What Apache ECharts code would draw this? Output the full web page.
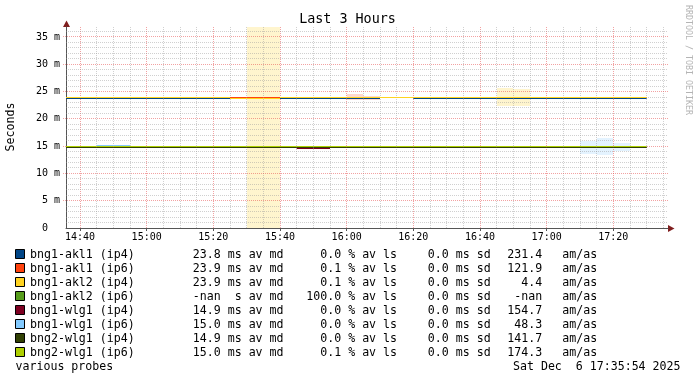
<!DOCTYPE html>
<html><head><meta charset="utf-8">
<script src="https://cdn.jsdelivr.net/npm/echarts@6/dist/echarts.min.js"></script>
<style>html,body{margin:0;padding:0;background:#fff}#c{width:697px;height:380px}</style>
</head><body><div id="c"></div>
<script>
// ---------- data ----------
// 5-minute step start times
const stepStarts = ['14:35','14:40','14:45','14:50','14:55','15:00','15:05','15:10','15:15','15:20',
  '15:25','15:30','15:35','15:40','15:45','15:50','15:55','16:00','16:05','16:10',
  '16:15','16:20','16:25','16:30','16:35','16:40','16:45','16:50','16:55','17:00',
  '17:05','17:10','17:15','17:20','17:25'];
const STEP = 5;
// median RTT per step (ms)
const akl1v4 = [23.8,23.8,23.8,23.8,23.8,23.8,23.8,23.8,23.8,23.8,null,null,null,23.8,23.8,23.8,23.8,23.8,23.8,null,null,23.8,23.8,23.8,23.8,23.8,23.8,23.8,23.8,23.8,23.8,23.8,23.8,23.8,23.8];
const akl1v6 = [23.95,23.95,23.95,23.95,23.95,23.95,23.95,23.95,23.95,23.95,23.95,23.95,23.95,23.95,23.95,23.95,23.95,23.95,23.95,null,null,23.95,23.95,23.95,23.95,23.95,23.95,23.95,23.95,23.95,23.95,23.95,23.95,23.95,23.95];
const akl2v4 = [23.95,23.95,23.95,23.95,23.95,23.95,23.95,23.95,23.95,23.95,23.8,23.8,23.8,23.95,23.95,23.95,23.95,23.95,23.95,23.95,23.95,23.95,23.95,23.95,23.95,23.95,23.95,23.95,23.95,23.95,23.95,23.95,23.95,23.95,23.95];
const akl2v6 = [null,null,null,null,null,null,null,null,null,null,null,null,null,null,null,null,null,null,null,null,null,null,null,null,null,null,null,null,null,null,null,null,null,null,null];
const wlg1v4 = [14.8,14.8,14.8,14.8,14.8,14.8,14.8,14.8,14.8,14.8,14.8,14.8,14.8,14.8,14.6,14.6,14.8,14.8,14.8,14.8,14.8,14.8,14.8,14.8,14.8,14.8,14.8,14.8,14.8,14.8,14.8,14.8,14.8,14.8,14.8];
const wlg1v6 = [15.0,15.0,15.1,15.1,15.0,15.0,15.0,15.0,15.0,15.0,15.0,15.0,15.0,15.0,15.0,15.0,15.0,15.0,15.0,15.0,15.0,15.0,15.0,15.0,15.0,15.0,15.0,15.0,15.0,15.0,15.0,15.0,15.0,15.0,15.0];
const bng2v4 = [14.8,14.8,14.8,14.8,14.8,14.8,14.8,14.8,14.8,14.8,14.8,14.8,14.8,14.8,14.8,14.8,14.8,14.8,14.8,14.8,14.8,14.8,14.8,14.8,14.8,14.8,14.8,14.8,14.8,14.8,14.8,14.8,14.8,14.8,14.8];
const bng2v6 = [15.0,15.0,15.0,15.0,15.0,15.0,15.0,15.0,15.0,15.0,15.0,15.0,15.0,15.0,15.0,15.0,15.0,15.0,15.0,15.0,15.0,15.0,15.0,15.0,15.0,15.0,15.0,15.0,15.0,15.0,15.0,15.0,15.0,15.0,15.0];
// smoke bands: [start, end, low, high]
const smokeAkl1v6 = [['16:00','16:05',23.4,24.5],['16:05','16:10',23.4,24.2]];
const smokeAkl2v4 = [['15:30','15:40',0,40],['16:45','16:50',22.3,25.6],['16:50','16:55',22.3,25.4]];
const smokeWlg1v6 = [['17:10','17:15',13.55,15.9],['17:15','17:20',13.4,16.5],['17:20','17:25',14.1,15.6]];
// axes
const xTickLabels = ['14:40','15:00','15:20','15:40','16:00','16:20','16:40','17:00','17:20'];
const yTickValues = [0,5,10,15,20,25,30,35];
// legend
const legendNames = ['bng1-akl1 (ip4)','bng1-akl1 (ip6)','bng1-akl2 (ip4)','bng1-akl2 (ip6)','bng1-wlg1 (ip4)','bng1-wlg1 (ip6)','bng2-wlg1 (ip4)','bng2-wlg1 (ip6)'];
const legendColors = ['#004586','#ff420e','#ffd320','#579d1c','#7e0021','#83caff','#314004','#aecf00'];
const avMd = ['23.8 ms','23.9 ms','23.9 ms','-nan  s','14.9 ms','15.0 ms','14.9 ms','15.0 ms'];
const avLs = ['0.0','0.1','0.1','100.0','0.0','0.0','0.0','0.1'];
const sdVals = ['0.0','0.0','0.0','0.0','0.0','0.0','0.0','0.0'];
const amas = ['231.4','121.9','4.4','-nan','154.7','48.3','141.7','174.3'];

// ---------- helpers ----------
const FONT = '"DejaVu Sans Mono", monospace';
const toMin = s => { const [h, m] = s.split(':').map(Number); return h * 60 + m; };
const xMin = 14 * 60 + 35.8, xMax = xMin + 180.6;
const yMax = 36.83;
const GRID_C = 'rgba(150,150,150,0.45)';
const MGRID_C = 'rgba(230,70,70,0.5)';

const xMajor = xTickLabels.map(toMin);
const xMinor = [];
for (let t = toMin('14:40'); t < xMax; t += 5) if (xMajor.indexOf(t) < 0) xMinor.push(t);
const yMinor = [];
for (let v = 1; v < yMax; v++) if (v % 5) yMinor.push(v);
const yMajor = yTickValues.filter(v => v > 0);

function vGrid(vals, color, ext) {
  return { type: 'custom', z: 2, silent: true, data: vals.map(v => [v, 0]),
    renderItem(p, api) {
      const x = Math.floor(api.coord([api.value(0), 0])[0]) + 0.5;
      const yb = api.coord([xMin, 0])[1], yt = api.coord([xMin, yMax])[1];
      return { type: 'line', shape: { x1: x, y1: yb + ext, x2: x, y2: yt }, style: { stroke: color, lineWidth: 1, lineDash: [1, 1] } };
    } };
}
function hGrid(vals, color, ext) {
  return { type: 'custom', z: 2, silent: true, data: vals.map(v => [xMin, v]),
    renderItem(p, api) {
      const y = Math.floor(api.coord([xMin, api.value(1)])[1]) + 0.5;
      const xl = api.coord([xMin, 0])[0], xr = api.coord([xMax, 0])[0];
      return { type: 'line', shape: { x1: xl - ext, y1: y, x2: xr, y2: y }, style: { stroke: color, lineWidth: 1, lineDash: [1, 1] } };
    } };
}
function stepSeries(name, vals, color, width) {
  const data = [];
  vals.forEach((v, i) => { if (v != null) data.push([toMin(stepStarts[i]), v]); });
  return { name, type: 'custom', z: 3, silent: true, data,
    renderItem(p, api) {
      const t = api.value(0), v = api.value(1);
      const p0 = api.coord([Math.max(t, xMin), v]), p1 = api.coord([t + STEP, v]);
      const y = width % 2 ? Math.floor(p0[1]) + 0.5 : Math.round(p0[1]);
      return { type: 'line', shape: { x1: p0[0], y1: y, x2: p1[0], y2: y }, style: { stroke: color, lineWidth: width } };
    } };
}
function smokeSeries(bands, color) {
  return { type: 'custom', z: 1, silent: true,
    data: bands.map(b => [toMin(b[0]), toMin(b[1]), b[2], b[3]]),
    renderItem(p, api) {
      const a = api.coord([api.value(0), Math.min(api.value(3), yMax)]);
      const b = api.coord([api.value(1), api.value(2)]);
      return { type: 'rect', shape: { x: Math.round(a[0]), y: Math.round(a[1]), width: Math.round(b[0]) - Math.round(a[0]), height: Math.round(b[1]) - Math.round(a[1]) }, style: { fill: color } };
    } };
}

// ---------- legend graphics ----------
const LFONT = '11.6px ' + FONT;
const graphics = [];
const txt = (text, x, y, extra) => Object.assign({ type: 'text', x, y, silent: true,
  style: Object.assign({ text, font: LFONT, fill: '#000', textVerticalAlign: 'middle', textAlign: 'left' }, extra || {}) });
legendNames.forEach((n, i) => {
  const yc = 254.7 + 14 * i;
  graphics.push({ type: 'rect', silent: true, shape: { x: 15.5, y: 249.5 + 14 * i, width: 9, height: 9 }, style: { fill: legendColors[i], stroke: '#000', lineWidth: 1 } });
  graphics.push(txt(n, 30, yc));
  graphics.push(txt(avMd[i] + ' av md', 192.8, yc));
  graphics.push(txt(avLs[i].padStart(5, ' ') + ' % av ls', 306.3, yc));
  graphics.push(txt(sdVals[i] + ' ms sd', 427.8, yc));
  graphics.push(txt(amas[i].padStart(5, ' '), 507.3, yc));
  graphics.push(txt('am/as', 562.3, yc));
});
graphics.push(txt('various probes', 15.5, 254.7 + 14 * 8));
graphics.push(txt('Sat Dec  6 17:35:54 2025', 680.5, 254.7 + 14 * 8, { textAlign: 'right' }));
graphics.push(txt('Last 3 Hours', 347.5, 19.3, { font: '13.4px ' + FONT, textAlign: 'center' }));
graphics.push(Object.assign(txt('Seconds', 11, 127, { textAlign: 'center' }), { rotation: Math.PI / 2 }));
graphics.push(Object.assign(txt('RRDTOOL / TOBI OETIKER', 688, 60, { textAlign: 'center', font: '8.3px ' + FONT, fill: '#b4b4b4' }), { rotation: -Math.PI / 2 }));
// axis arrows
graphics.push({ type: 'polygon', silent: true, shape: { points: [[63, 27], [70, 27], [66.5, 20.5]] }, style: { fill: 'rgb(128,31,31)' } });
graphics.push({ type: 'polygon', silent: true, shape: { points: [[668, 225], [668, 232], [674.5, 228.5]] }, style: { fill: 'rgb(128,31,31)' } });

const xLabelMap = {};
xTickLabels.forEach(s => { xLabelMap[toMin(s)] = s; });

const chart = echarts.init(document.getElementById('c'), null, { renderer: 'canvas' });
chart.setOption({
  animation: false,
  backgroundColor: '#fff',
  grid: { left: 66, top: 27, width: 602, height: 201, containLabel: false, outerBoundsMode: 'none' },
  xAxis: {
    type: 'value', min: xMin, max: xMax,
    axisLine: { show: true, onZero: false, lineStyle: { color: '#555', width: 1 } },
    splitLine: { show: false },
    axisTick: { show: true, customValues: xMajor, length: 3, lineStyle: { color: '#555' } },
    axisLabel: { customValues: xMajor, formatter: v => xLabelMap[Math.round(v)] || '', fontFamily: '"DejaVu Sans Mono"', fontSize: 10, color: '#000', margin: 4 }
  },
  yAxis: {
    type: 'value', min: 0, max: yMax, interval: 5,
    axisLine: { show: true, lineStyle: { color: '#555', width: 1 } },
    splitLine: { show: false }, axisTick: { show: false },
    axisLabel: { formatter: v => (v === 0 ? '0  ' : (Math.abs(v % 5) < 1e-9 ? v + ' m' : '')), fontFamily: '"DejaVu Sans Mono"', fontSize: 10, color: '#000', margin: 6, showMaxLabel: false }
  },
  graphic: graphics,
  series: [
    smokeSeries(smokeAkl2v4, 'rgba(255,211,32,0.22)'),
    smokeSeries(smokeAkl1v6, 'rgba(255,66,14,0.2)'),
    smokeSeries(smokeWlg1v6, 'rgba(131,202,255,0.22)'),
    vGrid(xMinor, GRID_C, 0),
    vGrid(xMajor, MGRID_C, 0),
    hGrid(yMinor, GRID_C, 0),
    hGrid(yMajor, MGRID_C, 3),
    stepSeries(legendNames[0], akl1v4, legendColors[0], 1),
    stepSeries(legendNames[1], akl1v6, legendColors[1], 1),
    stepSeries(legendNames[2], akl2v4, legendColors[2], 1),
    stepSeries(legendNames[3], akl2v6, legendColors[3], 1),
    stepSeries(legendNames[4], wlg1v4, legendColors[4], 1),
    stepSeries(legendNames[5], wlg1v6, legendColors[5], 1),
    stepSeries(legendNames[6], bng2v4, legendColors[6], 1),
    stepSeries(legendNames[7], bng2v6, legendColors[7], 1)
  ]
});
</script></body></html>
